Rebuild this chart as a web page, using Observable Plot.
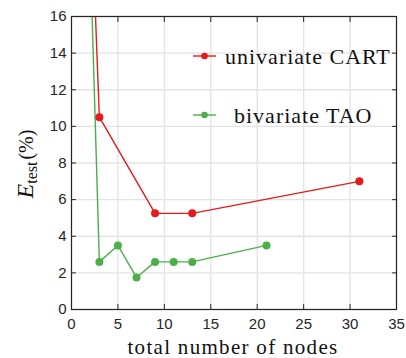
<!DOCTYPE html>
<html><head><meta charset="utf-8">
<script src="https://cdn.jsdelivr.net/npm/d3@7"></script>
<script src="https://cdn.jsdelivr.net/npm/@observablehq/plot@0.6"></script>
<style>body{margin:0;background:#fff} #wrap{width:406px;height:358px}</style>
</head><body><div id="wrap"></div>
<script>
const seriesNames = ["univariate CART", "bivariate TAO"];
const seriesColors = ["#e41a1c", "#4daf4a"];
const cartNodes = [1, 3, 9, 13, 31];
const cartError = [37, 10.5, 5.25, 5.25, 7];
const taoNodes = [1, 3, 5, 7, 9, 11, 13, 21];
const taoError = [37, 2.6, 3.5, 1.75, 2.6, 2.6, 2.6, 3.5];
const xTicks = [0, 5, 10, 15, 20, 25, 30, 35];
const yTicks = [0, 2, 4, 6, 8, 10, 12, 14, 16];
const xTitle = "total number of nodes";

const data = [
  ...cartNodes.map((x, i) => ({series: seriesNames[0], x, y: cartError[i]})),
  ...taoNodes.map((x, i) => ({series: seriesNames[1], x, y: taoError[i]}))
];

const axisColor = "#262626";
const plot = Plot.plot({
  width: 406, height: 358,
  marginLeft: 71, marginRight: 10, marginTop: 16, marginBottom: 49,
  x: {domain: [0, 35], ticks: xTicks},
  y: {domain: [0, 16], ticks: yTicks},
  color: {domain: seriesNames, range: seriesColors},
  style: {fontFamily: "'Liberation Sans', Arial, sans-serif", fontSize: "15px", color: axisColor, background: "#fff"},
  marks: [
    Plot.gridX(xTicks, {stroke: "#e3e3e3", strokeOpacity: 1, strokeWidth: 1.3}),
    Plot.gridY(yTicks, {stroke: "#e3e3e3", strokeOpacity: 1, strokeWidth: 1.3}),
    Plot.line(data, {x: "x", y: "y", z: "series", stroke: "series", strokeWidth: 1.4, clip: true}),
    Plot.dot(data, {x: "x", y: "y", fill: "series", r: 4, clip: true}),
    Plot.frame({stroke: axisColor, strokeWidth: 1.2}),
    Plot.axisX(xTicks, {anchor: "bottom", tickSize: -5, tickPadding: 14, label: null, stroke: axisColor}),
    Plot.axisX(xTicks, {anchor: "top", tickSize: -5, tickFormat: () => "", label: null, stroke: axisColor}),
    Plot.axisY(yTicks, {anchor: "left", tickSize: -5, tickPadding: 10, label: null, stroke: axisColor}),
    Plot.axisY(yTicks, {anchor: "right", tickSize: -5, tickFormat: () => "", label: null, stroke: axisColor})
  ]
});
document.getElementById("wrap").appendChild(plot);

const svg = d3.select(plot);
const serif = "'Liberation Serif', 'Times New Roman', serif";

// x title
svg.append("text")
  .attr("x", 233).attr("y", 354)
  .attr("text-anchor", "middle")
  .attr("font-family", serif).attr("font-size", 21)
  .attr("letter-spacing", 1.3)
  .attr("fill", "#111")
  .text(xTitle);

// y title
const yt = svg.append("text")
  .attr("transform", "translate(33,164) rotate(-90)")
  .attr("text-anchor", "middle")
  .attr("font-family", serif)
  .attr("fill", "#111");
yt.append("tspan").attr("font-size", 24).attr("font-style", "italic").text("E");
yt.append("tspan").attr("font-size", 16).attr("dy", 4).text("test");
yt.append("tspan").attr("font-size", 20).attr("dy", -4).attr("dx", 2).text("(%)");

// legend
const legendRows = [{y: 56, tx: 225}, {y: 115, tx: 234}];
seriesNames.forEach((name, i) => {
  const r = legendRows[i];
  const g = svg.append("g");
  g.append("line").attr("x1", 193).attr("x2", 216).attr("y1", r.y).attr("y2", r.y)
    .attr("stroke", seriesColors[i]).attr("stroke-width", 1.4);
  g.append("circle").attr("cx", 204.5).attr("cy", r.y).attr("r", 3.3).attr("fill", seriesColors[i]);
  g.append("text").attr("x", r.tx).attr("y", r.y + 8)
    .attr("text-anchor", "start")
    .attr("font-family", serif).attr("font-size", 22).attr("letter-spacing", 1)
    .attr("fill", "#111").text(name);
});
</script>
</body></html>
